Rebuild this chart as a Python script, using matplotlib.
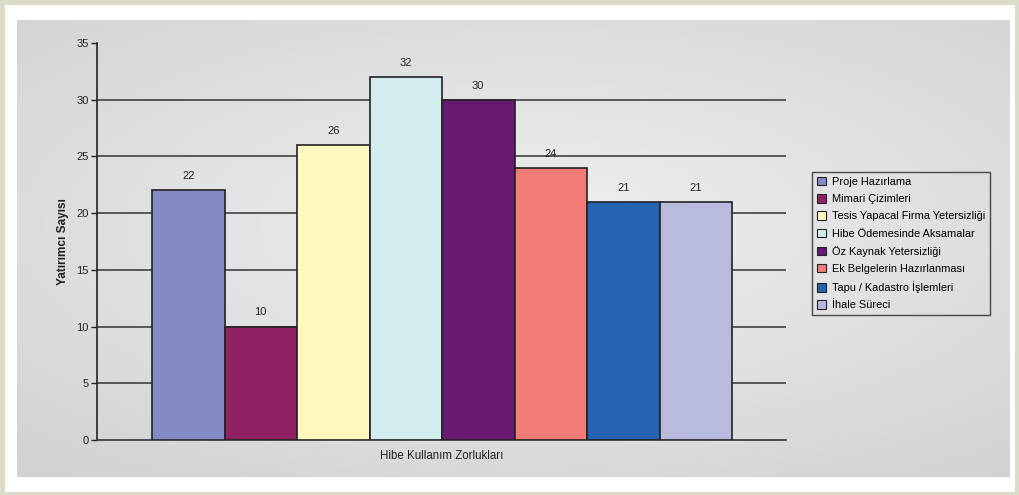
import numpy as np
import matplotlib.pyplot as plt
from matplotlib.patches import Rectangle

plt.rcParams['font.family'] = ['Liberation Sans', 'DejaVu Sans']

categories = ["Proje Hazırlama", "Mimari Çizimleri", "Tesis Yapacal Firma Yetersizliği",
              "Hibe Ödemesinde Aksamalar", "Öz Kaynak Yetersizliği", "Ek Belgelerin Hazırlanması",
              "Tapu / Kadastro İşlemleri", "İhale Süreci"]
values = [22, 10, 26, 32, 30, 24, 21, 21]
colors = ["#8589C4", "#8E2262", "#FFF9C0", "#D3ECEE", "#681A71", "#F27D78", "#2563B3", "#B8BBDE"]

W, H = 1020, 495
fig = plt.figure(figsize=(W / 100, H / 100), dpi=100)
fig.patch.set_facecolor("#DCDCC8")

# background: white frame + gradient panel
bg = fig.add_axes([0, 0, 1, 1])
bg.set_zorder(-1)
bg.add_patch(Rectangle((5, 5), 1010, 487, facecolor="white", edgecolor="none"))
yy, xx = np.mgrid[0:1:200j, 0:1:400j]
d = np.sqrt(((xx - 0.52) / 0.9) ** 2 + ((yy - 0.45) / 0.8) ** 2)
g = 0.935 - 0.13 * d
bg.imshow(np.dstack([g, g + 0.003, g + 0.008]).clip(0, 1), aspect="auto",
          extent=[17, 1010, 477, 20], zorder=1)
bg.set_xlim(0, W)
bg.set_ylim(H, 0)
bg.set_axis_off()

ax = fig.add_axes([97 / W, 55 / H, 689 / W, 397 / H])
ax.patch.set_alpha(0)
x = np.arange(len(values))
bars = ax.bar(x, values, width=1.0, color=colors, edgecolor="#222222", linewidth=1.2, zorder=3,
              label=categories)
for xi, v in zip(x, values):
    ax.text(xi, v + 0.8, str(v), ha="center", va="bottom", fontsize=8, color="#222222", zorder=5)

ax.set_xlim(-0.5 - 55 / 72.5, 7.5 + 54 / 72.5)
ax.set_ylim(0, 35)
ax.set_yticks(range(0, 36, 5))
for t in range(5, 35, 5):
    ax.axhline(t, color="#333333", linewidth=1.1, zorder=1)
for s in ["top", "right"]:
    ax.spines[s].set_visible(False)
ax.spines["left"].set_color("#222222")
ax.spines["bottom"].set_color("#333333")
ax.spines["left"].set_linewidth(1.2)
ax.spines["bottom"].set_linewidth(1.2)
ax.set_xticks([])
ax.tick_params(axis="y", length=4, width=1, colors="#222222", labelsize=8, pad=2)
ax.set_xlabel("Hibe Kullanım Zorlukları", fontsize=8.3, color="#222222", labelpad=7)
ax.set_ylabel("Yatırımcı Sayısı", fontsize=8.5, fontweight="bold", color="#222222", labelpad=5)

leg = fig.legend(bars, categories, loc="upper left", bbox_to_anchor=(812 / W, 1 - 172 / H),
                 fontsize=7.9, frameon=True, fancybox=False, handlelength=0.8, handleheight=0.8,
                 handletextpad=0.6, labelspacing=0.66, borderpad=0.45, borderaxespad=0)
leg.get_frame().set_edgecolor("#222222")
leg.get_frame().set_facecolor("none")
leg.get_frame().set_linewidth(1.0)
for h in leg.legend_handles:
    h.set_linewidth(0.8)

fig.savefig("out.png", dpi=100)
